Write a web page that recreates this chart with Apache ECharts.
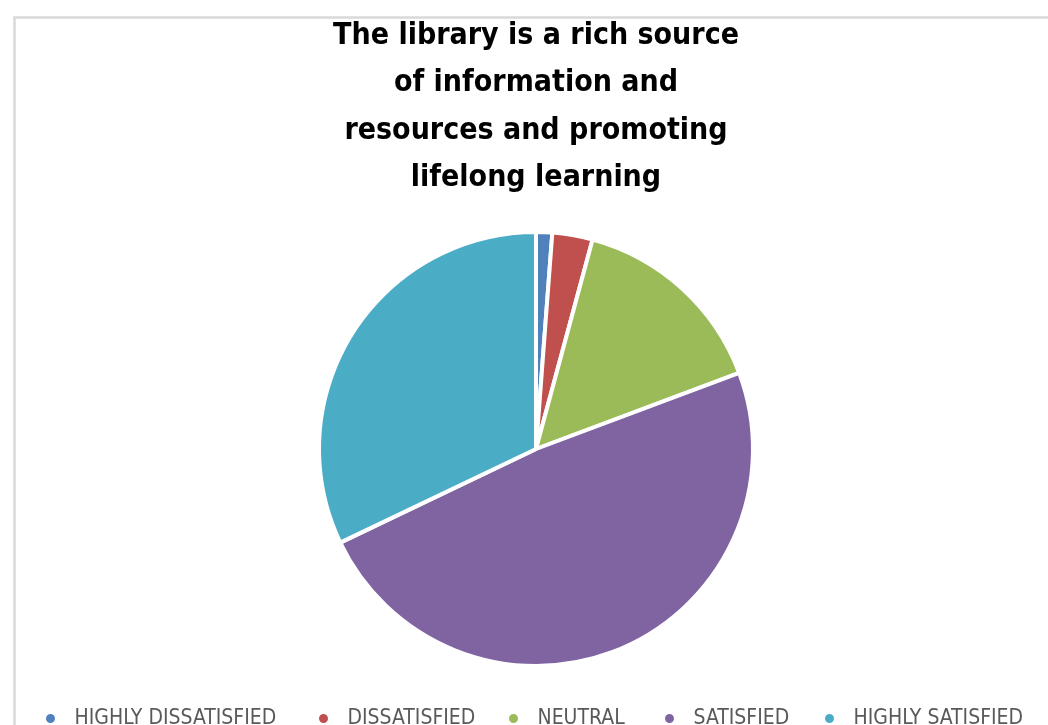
<!DOCTYPE html>
<html>
<head>
<meta charset="utf-8">
<script src="https://cdn.jsdelivr.net/npm/echarts@6/dist/echarts.min.js"></script>
<style>
html,body{margin:0;padding:0;background:#fff;}
#chart{width:1048px;height:725px;}
</style>
</head>
<body>
<div id="chart"></div>
<script>
const titleText = "The library is a rich source\nof information and\nresources and promoting\nlifelong learning";
const categories = ["HIGHLY DISSATISFIED", "DISSATISFIED", "NEUTRAL", "SATISFIED", "HIGHLY SATISFIED"];
const values = [1.2, 3.0, 15.1, 48.6, 32.1];
const colors = ["#4f81bd", "#c0504d", "#9bbb59", "#8064a2", "#4bacc6"];

const chart = echarts.init(document.getElementById('chart'), null, {renderer: 'canvas'});
const fontFam = '"Liberation Sans Narrow", "DejaVu Sans Condensed", "Liberation Sans", sans-serif';
const legendLefts = [44, 317, 507, 663, 823];
chart.setOption({
  animation: false,
  backgroundColor: '#ffffff',
  color: colors,
  graphic: [{
    type: 'rect', left: 12, top: 15, silent: true,
    shape: {x: 0, y: 0, width: 1200, height: 900},
    style: {fill: 'none', stroke: '#d9d9d9', lineWidth: 2.5}
  }],
  title: {
    text: titleText,
    left: 531,
    textAlign: 'center',
    top: 7,
    textStyle: {
      fontFamily: fontFam,
      fontWeight: 'bold',
      fontSize: 30,
      lineHeight: 47.5,
      color: '#000000'
    }
  },
  legend: categories.map((c, i) => ({
    data: [c],
    bottom: -4,
    left: legendLefts[i],
    padding: 0,
    icon: 'circle',
    itemWidth: 38,
    itemHeight: 11,
    textStyle: {fontFamily: fontFam, fontSize: 21, color: '#595959'},
    selectedMode: false
  })),
  series: [{
    type: 'pie',
    center: [536, 449],
    radius: 217,
    startAngle: 90,
    clockwise: true,
    label: {show: false},
    labelLine: {show: false},
    emphasis: {disabled: true},
    itemStyle: {borderColor: '#ffffff', borderWidth: 4},
    data: categories.map((c, i) => ({name: c, value: values[i]}))
  }]
});
</script>
</body>
</html>
